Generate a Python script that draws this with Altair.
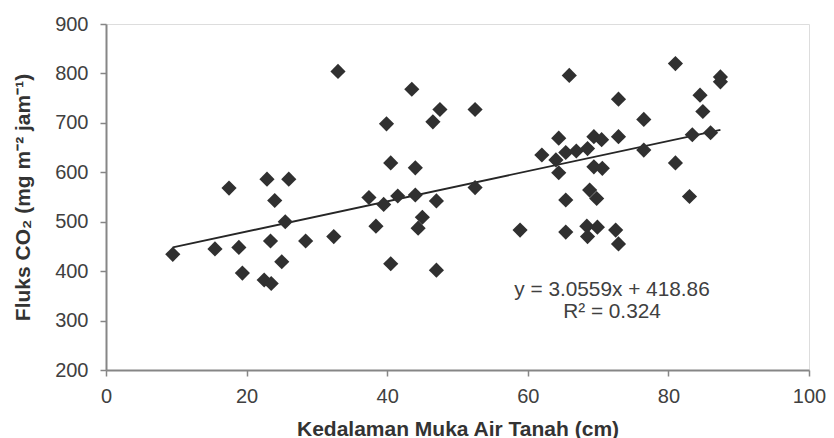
import altair as alt
import pandas as pd

# Groundwater depth (cm) and CO2 flux (mg m-2 jam-1)
depth = [9.5, 15.5, 17.5, 18.9, 19.4, 22.5, 22.9, 23.4, 23.5, 24.0,
         25.0, 25.5, 26.0, 28.4, 32.4, 33.0, 37.4, 38.4, 39.5, 39.9,
         40.5, 40.5, 41.5, 43.5, 44.0, 44.0, 44.4, 45.0, 46.5, 47.0,
         47.0, 47.5, 52.5, 52.5, 58.9, 62.0, 64.0, 64.4, 64.4, 65.4,
         65.4, 65.4, 65.9, 66.9, 68.4, 68.5, 68.5, 68.8, 69.4, 69.4,
         69.8, 69.9, 70.5, 70.6, 72.5, 72.9, 72.9, 72.9, 76.5, 76.5,
         81.0, 81.0, 83.0, 83.4, 84.5, 84.9, 86.0, 87.4, 87.4]
flux = [434, 445, 568, 448, 396, 382, 586, 461, 375, 543,
        419, 500, 586, 461, 470, 804, 549, 491, 535, 698,
        619, 415, 552, 768, 609, 554, 487, 509, 702, 542,
        402, 727, 727, 569, 483, 635, 625, 669, 599, 640,
        544, 479, 796, 643, 491, 648, 470, 564, 672, 611,
        547, 489, 666, 608, 483, 748, 672, 455, 707, 645,
        820, 619, 551, 676, 756, 723, 680, 793, 783]

# Linear trend line end points
trend_depth = [9.5, 87.4]
trend_flux = [448, 686]

x_ticks = [0, 20, 40, 60, 80, 100]
y_ticks = [200, 300, 400, 500, 600, 700, 800, 900]
annotation_lines = ["y = 3.0559x + 418.86", "R\u00b2 = 0.324"]

x_title = "Kedalaman Muka Air Tanah (cm)"
y_title = "Fluks CO\u2082 (mg m\u207b\u00b2 jam\u207b\u00b9)"

points_df = pd.DataFrame({"depth": depth, "flux": flux})
trend_df = pd.DataFrame({"depth": trend_depth, "flux": trend_flux})

FONT = "Liberation Sans"
AXIS_GREY = "#868686"
TEXT = "#404040"
W, H = 703, 346

x_scale = alt.Scale(domain=[0, 100], nice=False, zero=False)
y_scale = alt.Scale(domain=[200, 900], nice=False, zero=False)

x_axis = alt.Axis(
    values=x_ticks, grid=False, title=x_title,
    domainColor=AXIS_GREY, domainWidth=2, tickColor=AXIS_GREY, tickWidth=1.5,
    tickSize=6, labelFont=FONT, labelFontSize=20, labelColor=TEXT, labelPadding=10,
    labelFlush=False,
    titleFont=FONT, titleFontSize=21, titleFontWeight="bold", titleColor="#333333",
    titleBaseline="alphabetic", titleY=65, titleX=W / 2,
)
y_axis = alt.Axis(
    values=y_ticks, grid=False, title=y_title,
    domainColor=AXIS_GREY, domainWidth=2, tickColor=AXIS_GREY, tickWidth=1.5,
    tickSize=6, labelFont=FONT, labelFontSize=20, labelColor=TEXT, labelPadding=12,
    labelFlush=False,
    titleFont=FONT, titleFontSize=21, titleFontWeight="bold", titleColor="#333333",
    titleBaseline="alphabetic", titleAngle=270, titleX=-77, titleY=H / 2,
    titleAlign="center",
)

points = alt.Chart(points_df).mark_point(
    shape="diamond", filled=True, size=230, color="#303030", opacity=1
).encode(
    x=alt.X("depth:Q", scale=x_scale, axis=x_axis),
    y=alt.Y("flux:Q", scale=y_scale, axis=y_axis),
)

trend = alt.Chart(trend_df).mark_line(color="#262626", strokeWidth=1.8).encode(
    x=alt.X("depth:Q", scale=x_scale),
    y=alt.Y("flux:Q", scale=y_scale),
)

ann1 = alt.Chart(pd.DataFrame({"t": [annotation_lines[0]]})).mark_text(
    font=FONT, fontSize=20.8, color=TEXT, align="center", baseline="alphabetic"
).encode(text="t:N", x=alt.value(506), y=alt.value(272))

ann2 = alt.Chart(pd.DataFrame({"t": [annotation_lines[1]]})).mark_text(
    font=FONT, fontSize=20.8, color=TEXT, align="center", baseline="alphabetic"
).encode(text="t:N", x=alt.value(506), y=alt.value(293.5))

chart = alt.layer(trend, points, ann1, ann2).properties(
    width=W, height=H,
    autosize=alt.AutoSizeParams(type="none"),
    padding={"left": 98, "top": 16, "right": 17, "bottom": 68},
).configure_view(stroke=None).configure(background="white")

chart.save("out.html", embed_options={"renderer": "svg", "actions": False})
